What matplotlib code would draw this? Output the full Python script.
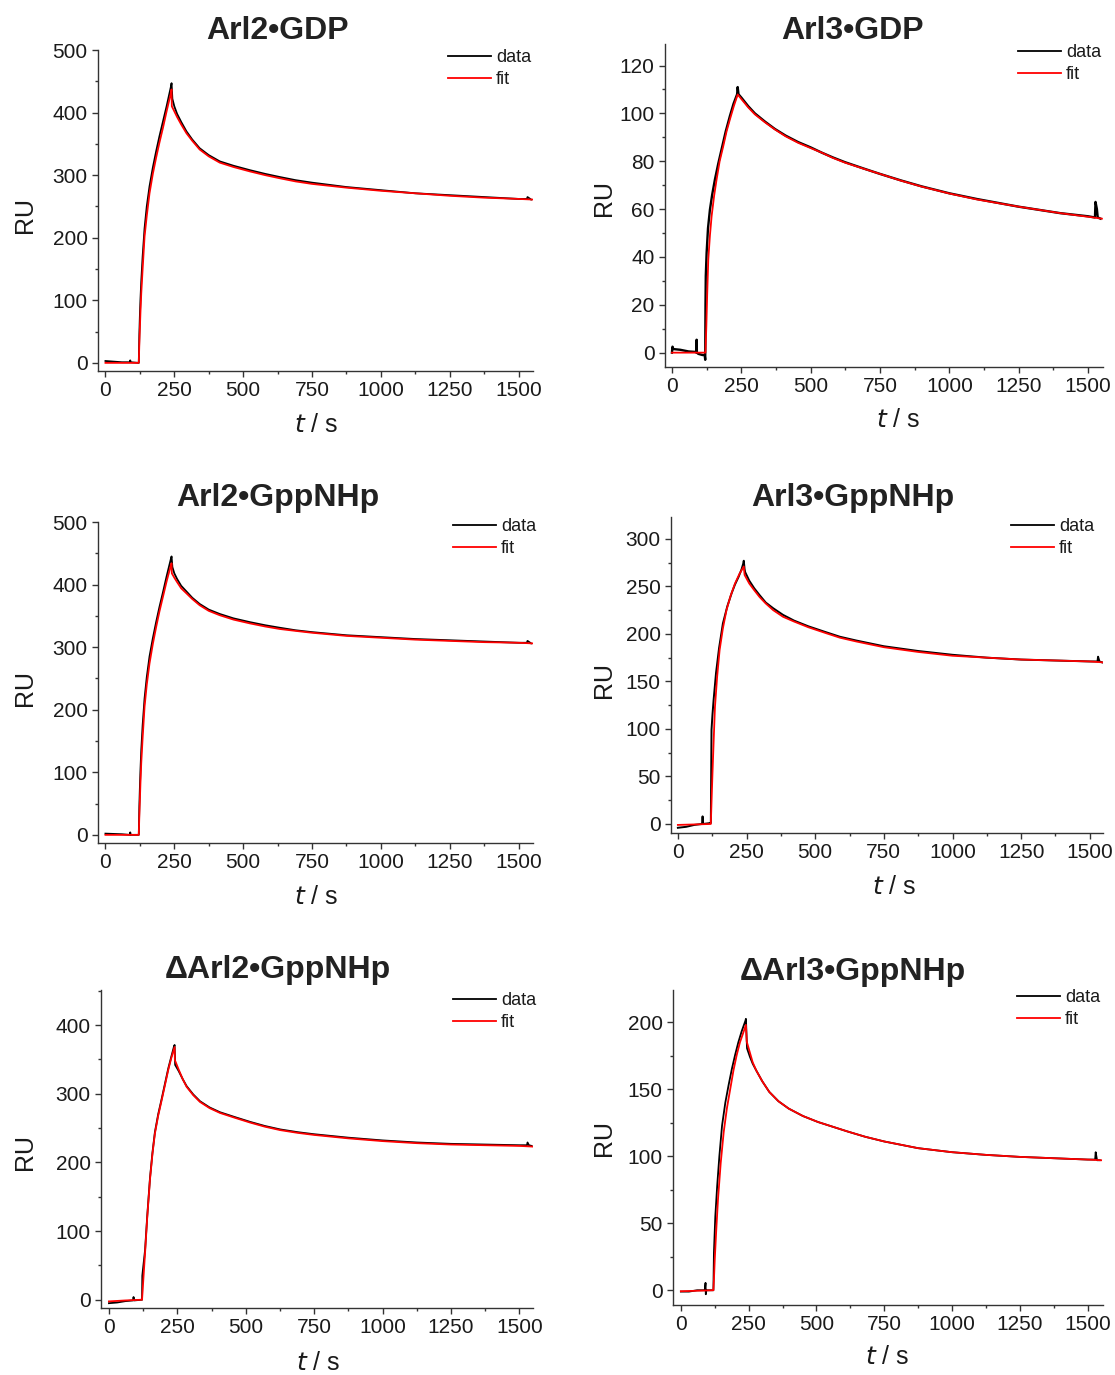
import matplotlib
matplotlib.use("Agg")
import matplotlib.pyplot as plt
from matplotlib.ticker import MultipleLocator

plt.rcParams['font.family'] = ['Liberation Sans', 'DejaVu Sans']

titles = ["Arl2\u2022GDP", "Arl3\u2022GDP", "Arl2\u2022GppNHp", "Arl3\u2022GppNHp",
          "\u0394Arl2\u2022GppNHp", "\u0394Arl3\u2022GppNHp"]

# ---- Panel 1: Arl2·GDP ----
p1_data_t = [0, 30, 60, 88, 90, 92, 119, 121, 123, 125, 127, 130, 135, 142, 150, 160, 172, 184, 196, 209,
             222, 237, 240, 243, 250, 260, 275, 294, 315, 342, 375, 415, 465, 524, 580, 633, 690, 750,
             875, 1000, 1125, 1250, 1375, 1500, 1530, 1532, 1545]
p1_data_y = [3, 2, 1, 1, 4, 1, 0, 0, 45, 75, 100, 130, 170, 215, 250, 282, 312, 338, 362, 386,
             410, 440, 447, 422, 410, 398, 385, 370, 357, 343, 332, 322, 315, 308, 302, 297, 292, 288,
             281, 276, 271, 268, 265, 262, 262, 265, 261]
p1_fit_t = [0, 119, 121, 123, 125, 127, 130, 135, 142, 150, 160, 172, 184, 196, 209, 222, 237, 240,
            241, 250, 260, 275, 294, 315, 342, 375, 415, 465, 524, 580, 633, 690, 750, 875, 1000,
            1125, 1250, 1375, 1500, 1550]
p1_fit_y = [0, 0, 0, 30, 55, 80, 111, 150, 202, 235, 271, 302, 328, 352, 376, 402, 430, 437,
            410, 402, 393, 381, 367, 355, 341, 330, 320, 313, 306, 300, 295, 290, 286, 280, 275,
            271, 267, 264, 262, 261]

# ---- Panel 2: Arl3·GDP ----
p2_data_t = [0, 2, 5, 30, 60, 85, 88, 89, 90, 95, 110, 118, 120, 121, 122, 125, 130, 137, 145, 155, 167,
             179, 194, 209, 222, 235, 237, 240, 251, 275, 299, 335, 371, 410, 455, 500, 540, 580, 624,
             690, 750, 825, 900, 1000, 1100, 1250, 1400, 1500, 1525, 1527, 1532, 1535, 1545]
p2_data_y = [0, 2.5, 1.5, 1.2, 0.5, 0.3, 0, 5.4, 0, -0.5, -1, -1, -3, 20, 32, 41.7, 52, 59.8, 66, 72.4, 79,
             85, 92.5, 98.9, 104, 108, 111, 108, 106.5, 103, 100, 96.6, 93.5, 90.7, 88, 85.8, 83.6, 81.6, 79.6,
             77, 74.7, 72, 69.5, 66.6, 64.2, 61, 58.3, 57, 56.5, 63, 60, 56.5, 56]
p2_fit_t = [0, 119, 121, 122, 124, 127, 131, 137, 143, 152, 161, 172, 185, 197, 209, 223, 237, 251, 275,
            299, 335, 371, 410, 455, 500, 540, 580, 624, 690, 750, 825, 900, 1000, 1100, 1250, 1400,
            1500, 1550]
p2_fit_y = [0, 0, 0, 4, 11, 24, 38.9, 49, 57, 65.5, 72.4, 80, 86.3, 92.5, 97.5, 103, 107.9, 105.9, 102.5,
            99.6, 96.3, 93.3, 90.4, 87.7, 85.5, 83.6, 81.4, 79.4, 76.9, 74.7, 71.9, 69.4, 66.5, 64, 61, 58.3,
            56.8, 56]

# ---- Panel 3: Arl2·GppNHp ----
p3_data_t = [0, 60, 88, 90, 92, 119, 121, 123, 125, 127, 130, 135, 142, 150, 160, 172, 184, 196, 209, 222,
             237, 240, 243, 250, 260, 275, 294, 315, 342, 375, 415, 465, 524, 580, 633, 690, 750, 875,
             1000, 1125, 1250, 1375, 1500, 1530, 1532, 1545]
p3_data_y = [2, 1, 0, 4, 0, 0, 0, 45, 75, 102, 135, 175, 218, 252, 285, 314, 340, 364, 388, 413,
             440, 445, 428, 418, 409, 398, 389, 379, 369, 360, 353, 346, 340, 335, 331, 327, 324, 319,
             316, 313, 311, 309, 307, 307, 310, 306]
p3_fit_t = [0, 119, 121, 123, 125, 127, 130, 135, 142, 150, 160, 172, 184, 196, 209, 222, 237, 240,
            241, 250, 260, 275, 294, 315, 342, 375, 415, 465, 524, 580, 633, 690, 750, 875, 1000,
            1125, 1250, 1375, 1500, 1550]
p3_fit_y = [0, 0, 0, 30, 55, 82, 115, 155, 205, 240, 274, 305, 332, 357, 381, 405, 430, 434,
            418, 411, 404, 394, 386, 377, 367, 358, 351, 344, 338, 333, 329, 326, 323, 318, 315,
            312, 310, 308, 307, 306]

# ---- Panel 4: Arl3·GppNHp ----
p4_data_t = [0, 30, 60, 88, 90, 92, 119, 120, 122.5, 126, 130, 139, 150, 164, 180, 196, 208, 221, 232, 238,
             240, 243, 245, 260, 278, 297, 320, 347, 383, 423, 475, 537, 590, 650, 700, 750, 875, 1000,
             1125, 1250, 1375, 1500, 1528, 1530, 1535, 1545]
p4_data_y = [-4, -3, -1, 0, 8, 0, 1, 1, 99, 115, 130, 159, 185, 211, 229, 243, 252, 260, 268, 274,
             277, 268, 265, 256, 248, 241, 233, 227, 220, 214, 208, 202, 197, 193, 190, 187, 182, 178,
             175, 173, 172, 171, 171, 176, 171, 170]
p4_fit_t = [0, 60, 119, 120, 122, 124, 126, 130, 135, 143, 152, 164, 177, 192, 208, 224, 240, 243, 260,
            278, 297, 320, 347, 383, 423, 475, 537, 590, 650, 700, 750, 875, 1000, 1125, 1250, 1375,
            1500, 1550]
p4_fit_y = [-1, -0.5, 0, 0, 18, 36, 53, 85, 123, 155, 183, 206, 225, 240, 253, 263, 271, 262, 253,
            246, 239, 232, 225, 218, 213, 207, 201, 196, 192, 189, 186, 181, 177, 175, 173, 172,
            171, 170]

# ---- Panel 5: ΔArl2·GppNHp ----
p5_data_t = [0, 30, 60, 88, 90, 92, 119, 121, 122, 126, 132, 140, 150, 159, 168, 180, 193, 205, 217, 228,
             238, 240, 242, 255, 270, 284, 308, 333, 368, 406, 460, 516, 570, 626, 690, 750, 875, 1000,
             1125, 1250, 1375, 1500, 1528, 1530, 1535, 1545]
p5_data_y = [-5, -4, -2, -1, 4, -1, 0, 0, 35, 50, 72, 122, 177, 214, 244, 270, 293, 315, 337, 354,
             369, 371, 342, 333, 321, 311, 299, 289, 280, 273, 266, 259, 253, 248, 244, 241, 236, 232,
             229, 227, 226, 225, 225, 229, 225, 224]
p5_fit_t = [0, 60, 119, 121, 125, 132, 140, 150, 159, 168, 180, 193, 205, 217, 228, 240, 241, 255,
            270, 284, 308, 333, 368, 406, 460, 516, 570, 626, 690, 750, 875, 1000, 1125, 1250, 1375,
            1500, 1550]
p5_fit_y = [-2.4, -1, 0, 0, 25, 68, 120, 175, 212, 242, 268, 291, 313, 335, 352, 368, 349, 335,
            321, 310, 298, 288, 279, 272, 265, 258, 252, 247, 243, 240, 235, 231, 228, 226, 225,
            224, 223]

# ---- Panel 6: ΔArl3·GppNHp ----
p6_data_t = [0, 30, 60, 88, 91, 92, 94, 119, 120, 122, 127, 134, 142, 152, 164, 176, 188, 200, 212, 224,
             238, 240, 244, 255, 265, 278, 300, 326, 360, 398, 450, 506, 560, 614, 680, 750, 875, 1000,
             1125, 1250, 1375, 1500, 1528, 1530, 1535, 1545]
p6_data_y = [-1, -1, 0, 0, 5.5, -3, 0, 0, 0, 28, 55, 78, 100, 123, 140, 153, 165, 175.5, 185, 193,
             201, 202.5, 180.5, 174, 169, 164, 156, 148, 141, 135.5, 130, 125.5, 122, 118.5, 114.5, 111,
             106, 103, 101, 99.5, 98.5, 97.5, 97.5, 103, 97, 97]
p6_fit_t = [0, 119, 120, 122, 125, 130, 137, 147, 158, 170, 182, 194, 206, 218, 230, 240, 243, 255,
            265, 278, 300, 326, 360, 398, 450, 506, 560, 614, 680, 750, 875, 1000, 1125, 1250, 1375,
            1500, 1550]
p6_fit_y = [-0.75, 0, 0, 8, 23, 43, 68, 95, 118, 136, 150, 164, 175.5, 185, 192, 198, 185.5, 177,
            170, 164, 156, 148, 141, 135.5, 130, 125.5, 122, 118.5, 114.5, 111, 106, 103, 101, 99.5,
            98.5, 97.5, 97]

data_t = [p1_data_t, p2_data_t, p3_data_t, p4_data_t, p5_data_t, p6_data_t]
data_y = [p1_data_y, p2_data_y, p3_data_y, p4_data_y, p5_data_y, p6_data_y]
fit_t = [p1_fit_t, p2_fit_t, p3_fit_t, p4_fit_t, p5_fit_t, p6_fit_t]
fit_y = [p1_fit_y, p2_fit_y, p3_fit_y, p4_fit_y, p5_fit_y, p6_fit_y]

W, H = 1115, 1375
fig = plt.figure(figsize=(W / 100, H / 100), dpi=100)

def px_rect(l, r, t, b):
    return [l / W, 1 - b / H, (r - l) / W, (b - t) / H]

# axes rectangles in pixels (left, right, top, bottom)
rects = [(98, 533, 50, 371), (665, 1103, 44, 367),
         (98, 533, 522, 843), (671, 1103, 517, 833),
         (101, 533, 990, 1308), (673, 1103, 990, 1305)]
ylims = [(-13, 500), (-6, 129), (-13, 500), (-9.5, 323), (-12, 451), (-11, 224)]
ymaj = [100, 20, 100, 50, 100, 50]
xlims = [(-27, 1552), (-25, 1554), (-27, 1552), (-25, 1548), (-29, 1550), (-29, 1557)]
title_pos = [(278, 31), (853, 31), (278, 498), (853, 498), (278, 970), (853, 972)]
ylabel_pos = [(25, 215), (604, 198), (25, 688), (604, 680), (25, 1152), (604, 1138)]
xlabel_pos = [(316, 425), (898, 420), (316, 897), (894, 887), (318, 1363), (887, 1357)]
legend_pos = [(448, 49), (1018, 44), (453, 518), (1011, 518), (453, 992), (1017, 989)]
data_lw = [1.3, 1.7, 1.3, 1.4, 1.3, 1.3]

ink = "#1a1a1a"
for i in range(6):
    ax = fig.add_axes(px_rect(*rects[i]))
    ax.plot(data_t[i], data_y[i], color="black", lw=data_lw[i], label="data", solid_joinstyle="round")
    ax.plot(fit_t[i], fit_y[i], color="#ff0000", lw=1.3, label="fit", solid_joinstyle="round")
    ax.set_xlim(*xlims[i])
    ax.set_ylim(*ylims[i])
    for s in ("top", "right"):
        ax.spines[s].set_visible(False)
    for s in ("left", "bottom"):
        ax.spines[s].set_color("#333333")
        ax.spines[s].set_linewidth(1.0)
    ax.xaxis.set_major_locator(MultipleLocator(250))
    ax.xaxis.set_minor_locator(MultipleLocator(125))
    ax.yaxis.set_major_locator(MultipleLocator(ymaj[i]))
    ax.yaxis.set_minor_locator(MultipleLocator(ymaj[i] / 2))
    ax.tick_params(which="major", direction="out", length=4.5, width=1.0, color="#333333",
                   labelsize=15, labelcolor=ink, pad=3)
    ax.tick_params(which="minor", direction="out", length=2.5, width=1.0, color="#333333")
    leg = ax.legend(loc="upper left", bbox_to_anchor=(legend_pos[i][0] / W, 1 - legend_pos[i][1] / H),
                    bbox_transform=fig.transFigure, frameon=False, fontsize=13,
                    handlelength=2.4, handletextpad=0.25, labelspacing=0.3,
                    borderpad=0, borderaxespad=0)
    for line in leg.get_lines():
        line.set_linewidth(1.3)
    for t in leg.get_texts():
        t.set_color(ink)
    tx, ty = title_pos[i]
    fig.text(tx / W, 1 - ty / H, titles[i], ha="center", va="center", fontsize=23,
             fontweight="bold", color="#222222")
    lx, ly = ylabel_pos[i]
    fig.text(lx / W, 1 - ly / H, "RU", ha="center", va="center", rotation=90, fontsize=18, color=ink)
    xx, xy = xlabel_pos[i]
    fig.text(xx / W, 1 - xy / H, r"$\it{t}$ / s", ha="center", va="center", fontsize=18, color=ink)

fig.savefig("out.png", dpi=100)
